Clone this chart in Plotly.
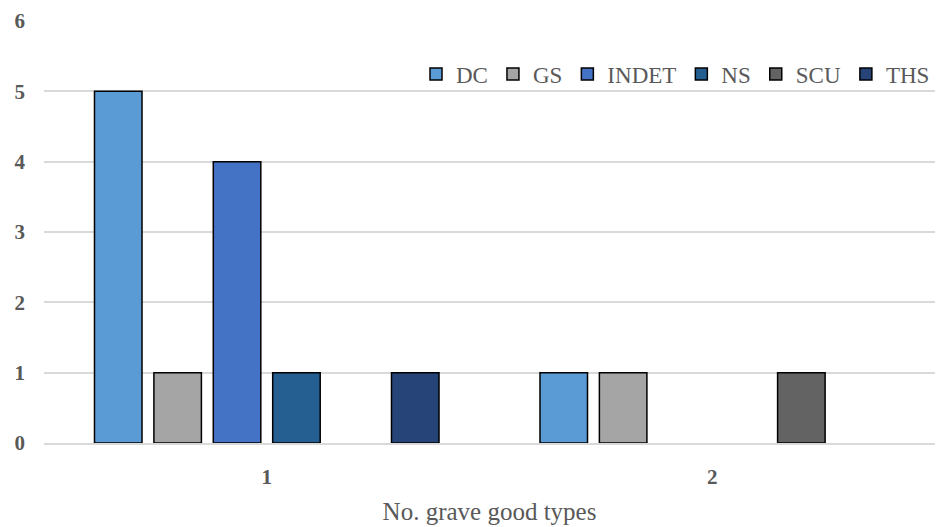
import plotly.graph_objects as go

categories = ["1", "2"]
series = ["DC", "GS", "INDET", "NS", "SCU", "THS"]
values = {
    "DC": [5, 1],
    "GS": [1, 1],
    "INDET": [4, 0],
    "NS": [1, 0],
    "SCU": [0, 1],
    "THS": [1, 0],
}
colors = ["#5B9BD5", "#A5A5A5", "#4472C4", "#255E91", "#636363", "#264478"]

serif = "Liberation Serif, Times New Roman, serif"

fig = go.Figure()
for name, col in zip(series, colors):
    # zero counts are drawn as empty slots, as in the source chart
    ys = [v if v else None for v in values[name]]
    fig.add_trace(go.Bar(x=categories, y=ys, name=name,
                         marker=dict(color=col, line=dict(color="black", width=1.5))))

fig.update_layout(
    width=937, height=527,
    margin=dict(l=44, r=2, t=21, b=84),
    plot_bgcolor="white", paper_bgcolor="white",
    font=dict(family=serif, color="#595959", size=22),
    barmode="group", bargap=0.2, bargroupgap=0.2,
    showlegend=True,
    legend=dict(orientation="h", x=1, xanchor="right", y=0.874, yanchor="middle",
                font=dict(family=serif, size=23, color="#595959"), itemwidth=30,
                traceorder="normal", bgcolor="rgba(0,0,0,0)"),
)
fig.update_xaxes(type="category", showgrid=False, showline=True, linecolor="#D9D9D9",
                 linewidth=1.5,
                 tickfont=dict(family=serif, size=21, color="#595959", weight="bold"),
                 title=dict(text="No. grave good types",
                            font=dict(family=serif, size=25, color="#595959"),
                            standoff=15),
                 ticks="", ticklabelstandoff=14)
fig.update_yaxes(range=[0, 6], dtick=1, showgrid=True, gridcolor="#D9D9D9", gridwidth=1.5,
                 zeroline=False,
                 tickfont=dict(family=serif, size=21, color="#595959", weight="bold"),
                 ticklabelstandoff=18)

fig.write_html("out.html", config={"displayModeBar": False},
               post_script="document.body.style.margin='0';")
